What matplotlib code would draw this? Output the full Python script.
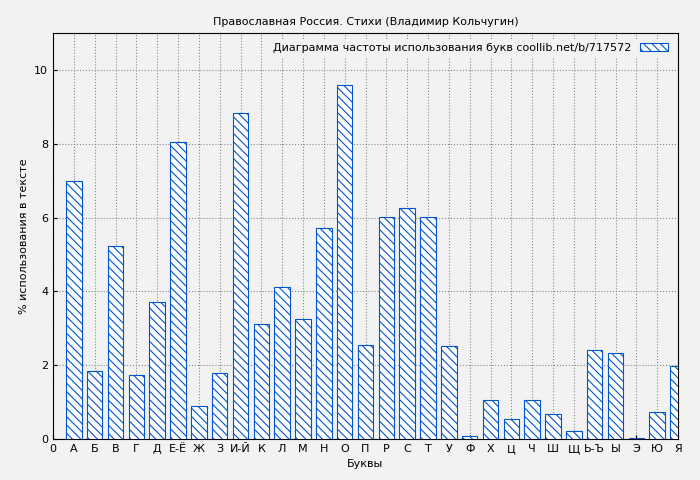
import matplotlib
matplotlib.use("Agg")
import matplotlib.pyplot as plt

letters = ["0","А","Б","В","Г","Д","Е-Ё","Ж","З","И-Й","К","Л","М","Н","О","П","Р","С","Т","У","Ф","Х","Ц","Ч","Ш","Щ","Ь-Ъ","Ы","Э","Ю","Я"]
values = [6.99,1.84,5.23,1.73,3.71,8.05,0.89,1.79,8.83,3.12,4.12,3.25,5.72,9.59,2.55,6.02,6.26,6.02,2.52,0.08,1.06,0.54,1.06,0.68,0.22,2.41,2.33,0.03,0.73,1.98]

plt.rcParams['hatch.color'] = '#0055cc'
plt.rcParams['hatch.linewidth'] = 0.8
fig = plt.figure(figsize=(7, 4.8), dpi=100, facecolor='#f2f2f2')
ax = fig.add_axes([53/700, 41/480, 625/700, 406/480])
ax.set_facecolor('#f2f2f2')
pos = list(range(1, len(values) + 1))
ax.bar(pos, values, width=0.75, facecolor='white', edgecolor='#0055cc', hatch='\\\\\\\\', linewidth=0.8,
       label='Диаграмма частоты использования букв coollib.net/b/717572', zorder=3)
ax.set_xlim(0, 30)
ax.set_ylim(0, 11)
ax.set_xticks(range(0, 31))
ax.set_xticklabels(letters, fontsize=8)
ax.set_yticks(range(0, 11, 2))
ax.tick_params(labelsize=8, direction='in', length=3)
ax.grid(True, linestyle=':', color='#888888', linewidth=0.8, zorder=0)
ax.set_xlabel('Буквы', fontsize=8)
ax.set_ylabel('% использования в тексте', fontsize=8)
ax.set_title('Православная Россия. Стихи (Владимир Кольчугин)', fontsize=8)
leg = ax.legend(loc='upper right', fontsize=8, frameon=True, fancybox=False, edgecolor='none',
                facecolor='#f2f2f2', framealpha=1, handlelength=2.5, markerfirst=False)
fig.savefig('out.png', dpi=100, facecolor=fig.get_facecolor())
